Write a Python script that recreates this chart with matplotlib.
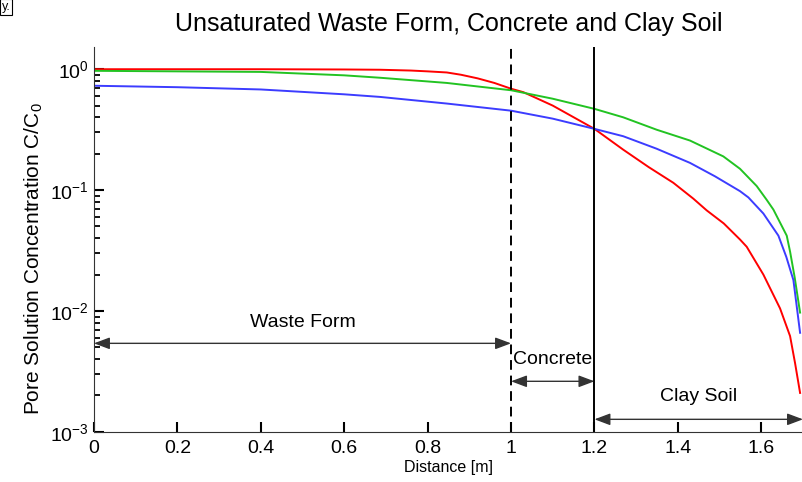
import matplotlib
matplotlib.use('Agg')
import matplotlib.pyplot as plt
from matplotlib.ticker import LogLocator, NullFormatter

plt.rcParams['font.family'] = ['Liberation Sans', 'DejaVu Sans']
plt.rcParams['mathtext.fontset'] = 'custom'
plt.rcParams['mathtext.rm'] = 'Liberation Sans'
plt.rcParams['mathtext.it'] = 'Liberation Sans'

# concentration profiles (distance [m], C/C0)
dist_red = [0, 0.2, 0.4, 0.6, 0.686, 0.76, 0.8, 0.846, 0.88, 0.92, 0.96, 1.0, 1.03, 1.1, 1.2,
            1.269, 1.33, 1.389, 1.437, 1.469, 1.51, 1.549, 1.565, 1.605, 1.645, 1.669, 1.681, 1.693]
conc_red = [1.0, 1.0, 1.0, 0.995, 0.99, 0.975, 0.96, 0.94, 0.9, 0.84, 0.77, 0.69, 0.645, 0.5, 0.321,
            0.216, 0.155, 0.115, 0.085, 0.068, 0.053, 0.039, 0.034, 0.020, 0.0105, 0.0062, 0.0037, 0.0021]

dist_green = [0, 0.2, 0.4, 0.6, 0.686, 0.846, 0.92, 1.0, 1.1, 1.2, 1.269, 1.349, 1.429, 1.509,
              1.549, 1.589, 1.613, 1.629, 1.661, 1.669, 1.68, 1.693]
conc_green = [0.97, 0.96, 0.95, 0.89, 0.85, 0.77, 0.72, 0.67, 0.57, 0.47, 0.40, 0.316, 0.257, 0.19,
              0.15, 0.108, 0.083, 0.069, 0.042, 0.031, 0.019, 0.0097]

dist_blue = [0, 0.2, 0.4, 0.6, 0.686, 0.846, 1.0, 1.1, 1.2, 1.269, 1.349, 1.429, 1.489, 1.549,
             1.569, 1.605, 1.641, 1.66, 1.677, 1.693]
conc_blue = [0.73, 0.71, 0.68, 0.62, 0.59, 0.52, 0.454, 0.39, 0.321, 0.279, 0.22, 0.168, 0.13, 0.098,
             0.087, 0.064, 0.042, 0.028, 0.018, 0.0066]

# material regions: (label, start, end, arrow level, text x, text level)
regions = [
    ('Waste Form', 0.0, 1.0, 0.0054, 0.5, 0.0081),
    ('Concrete', 1.0, 1.2, 0.00262, 1.1, 0.0040),
    ('Clay Soil', 1.2, 1.7, 0.00127, 1.45, 0.00197),
]
boundaries = [1.0, 1.2]

fig = plt.figure(figsize=(8.03, 4.82), dpi=100)
ax = fig.add_axes([0.117, 0.104, 0.883, 0.798])

ax.semilogy(dist_red, conc_red, color='#ff0000', lw=1.4)
ax.semilogy(dist_green, conc_green, color='#22c322', lw=1.4)
ax.semilogy(dist_blue, conc_blue, color='#3c3cff', lw=1.4)

ax.axvline(boundaries[0], color='black', ls=(0, (5, 3)), lw=1.4)
ax.axvline(boundaries[1], color='black', ls='-', lw=1.4)

for name, x0, x1, ya, xt, yt in regions:
    ax.annotate('', xy=(x0, ya), xytext=(x1, ya),
                arrowprops=dict(arrowstyle='<|-|>,head_length=0.8,head_width=0.3',
                                color='#333333', lw=1.0, mutation_scale=12,
                                shrinkA=0, shrinkB=0))
    ax.text(xt, yt, name, ha='center', va='center', fontsize=14)

ax.set_xlim(0, 1.7)
ax.set_ylim(1e-3, 1.52)
ax.set_xticks([0, 0.2, 0.4, 0.6, 0.8, 1.0, 1.2, 1.4, 1.6])
ax.set_xticklabels(['0', '0.2', '0.4', '0.6', '0.8', '1', '1.2', '1.4', '1.6'])
ax.yaxis.set_major_locator(LogLocator(base=10, numticks=10))
ax.yaxis.set_minor_locator(LogLocator(base=10, subs=[2, 3, 4, 5, 6, 7, 8, 9], numticks=40))
ax.yaxis.set_minor_formatter(NullFormatter())
ax.tick_params(which='both', direction='in', length=7, width=1.5, color='black', labelsize=14)
ax.tick_params(which='minor', length=4.5, width=1.3)
ax.tick_params(axis='x', pad=6)
for side in ['top', 'right']:
    ax.spines[side].set_visible(False)
for side in ['left', 'bottom']:
    ax.spines[side].set_color('#333333')

ax.set_title('Unsaturated Waste Form, Concrete and Clay Soil', fontsize=18, pad=12)
ax.set_xlabel('Distance [m]', fontsize=11.5, labelpad=2)
ax.set_ylabel('Pore Solution Concentration C/C$_0$', fontsize=15)
ax.yaxis.set_label_coords(-0.069, 0.45)

fig.text(0.002, 0.998, 'y.', fontsize=9, ha='left', va='top',
         bbox=dict(boxstyle='square,pad=0.15', fc='white', ec='black', lw=0.8))

fig.savefig('out.png', dpi=100)
